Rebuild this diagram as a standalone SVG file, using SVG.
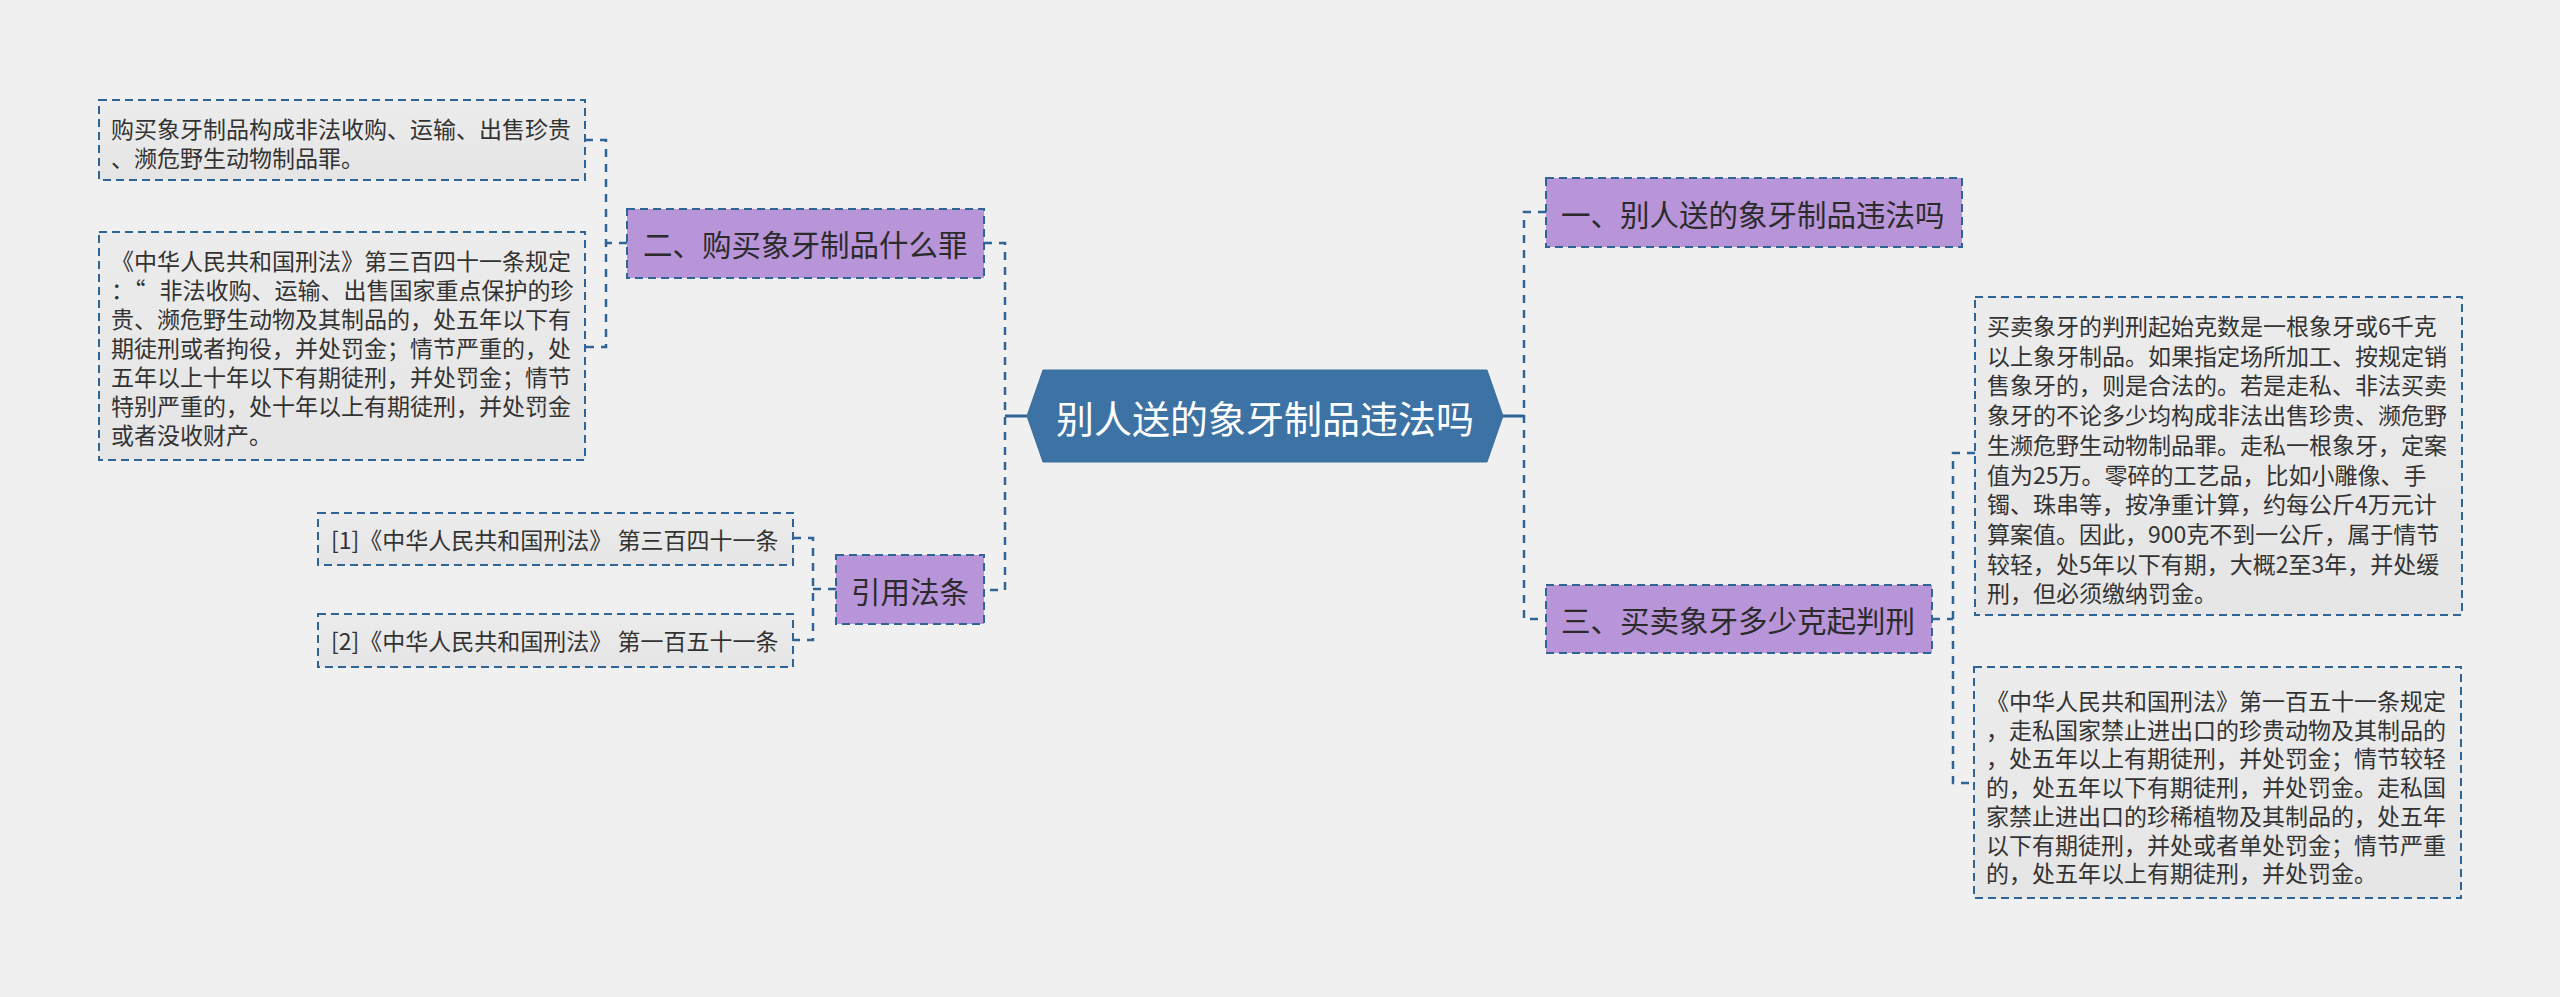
<svg xmlns="http://www.w3.org/2000/svg" width="2560" height="997" viewBox="0 0 2560 997">
<defs>
<linearGradient id="leafg" x1="0" y1="0" x2="0" y2="1">
<stop offset="0" stop-color="#ececec"/>
<stop offset="1" stop-color="#e5e5e5"/>
</linearGradient>
<style>
.leaf{fill:url(#leafg);stroke:#2f6596;stroke-width:2;stroke-dasharray:8 5}
.topic{fill:#b894d8;stroke:#2f6596;stroke-width:2;stroke-dasharray:8 5}
.lt{font-family:"Noto Sans CJK SC","Noto Sans",sans-serif;font-size:23px;fill:#333333;dominant-baseline:central}
.tt{font-family:"Noto Sans CJK SC","Noto Sans",sans-serif;font-size:29.5px;fill:#2b2b2b;dominant-baseline:central}
.ct{font-family:"Noto Sans CJK SC","Noto Sans",sans-serif;font-size:38px;fill:#ffffff;dominant-baseline:central;text-anchor:middle}
.con{fill:none;stroke:#2f6596;stroke-width:2.5;stroke-dasharray:8 7}
.solid{fill:none;stroke:#2f6596;stroke-width:3}
</style>
</defs>
<rect x="0" y="0" width="2560" height="997" fill="#f0f0f0"/>

<g id="connectors">
<path class="con" d="M984,243 H1005 V590 H984"/>
<path class="solid" d="M1005,416 H1027"/>
<path class="con" d="M1546,212 H1524 V619 H1546"/>
<path class="solid" d="M1503,416 H1524"/>
<path class="con" d="M627,243 H606"/>
<path class="con" d="M585,140 H606 V347 H585"/>
<path class="con" d="M836,589 H813"/>
<path class="con" d="M793,538 H813 V640 H793"/>
<path class="con" d="M1932,619 H1953"/>
<path class="con" d="M1975,453 H1953 V783 H1974"/>
</g>

<g id="center">
<polygon points="1027,416 1043,370 1487,370 1503,416 1487,462 1043,462" fill="#3d72a5" stroke="#3a6c9c" stroke-width="1"/>
<text class="ct" x="1265" y="416">别人送的象牙制品违法吗</text>
</g>

<g id="topic-2">
<rect class="topic" x="627" y="209" width="357" height="69"/>
<text class="tt" x="643" y="243">二、购买象牙制品什么罪</text>
</g>

<g id="leaf-2a">
<rect class="leaf" x="99" y="100" width="486" height="80"/>
<text class="lt"><tspan x="111" y="128">购买象牙制品构成非法收购、运输、出售珍贵</tspan><tspan x="111" y="157">、濒危野生动物制品罪。</tspan></text>
</g>

<g id="leaf-2b">
<rect class="leaf" x="99" y="232" width="486" height="228"/>
<text class="lt"><tspan x="111" y="260">《中华人民共和国刑法》第三百四十一条规定</tspan><tspan x="111" y="289">：“</tspan><tspan dx="14">非法收购、运输、出售国家重点保护的珍</tspan><tspan x="111" y="318">贵、濒危野生动物及其制品的，处五年以下有</tspan><tspan x="111" y="347">期徒刑或者拘役，并处罚金；情节严重的，处</tspan><tspan x="111" y="376">五年以上十年以下有期徒刑，并处罚金；情节</tspan><tspan x="111" y="405">特别严重的，处十年以上有期徒刑，并处罚金</tspan><tspan x="111" y="434">或者没收财产。</tspan></text>
</g>

<g id="topic-ref">
<rect class="topic" x="836" y="555" width="148" height="69"/>
<text class="tt" x="910" y="590" text-anchor="middle">引用法条</text>
</g>

<g id="leaf-ref1">
<rect class="leaf" x="318" y="513" width="475" height="52"/>
<text class="lt" x="331" y="539">[1]《中华人民共和国刑法》 第三百四十一条</text>
</g>

<g id="leaf-ref2">
<rect class="leaf" x="318" y="614" width="475" height="53"/>
<text class="lt" x="331" y="640">[2]《中华人民共和国刑法》 第一百五十一条</text>
</g>

<g id="topic-1">
<rect class="topic" x="1546" y="178" width="416" height="69"/>
<text class="tt" x="1561" y="213">一、别人送的象牙制品违法吗</text>
</g>

<g id="topic-3">
<rect class="topic" x="1546" y="585" width="386" height="68"/>
<text class="tt" x="1561" y="619">三、买卖象牙多少克起判刑</text>
</g>

<g id="leaf-3a">
<rect class="leaf" x="1975" y="297" width="487" height="318"/>
<text class="lt"><tspan x="1987" y="325">买卖象牙的判刑起始克数是一根象牙或6千克</tspan><tspan x="1987" y="354.7">以上象牙制品。如果指定场所加工、按规定销</tspan><tspan x="1987" y="384.4">售象牙的，则是合法的。若是走私、非法买卖</tspan><tspan x="1987" y="414.1">象牙的不论多少均构成非法出售珍贵、濒危野</tspan><tspan x="1987" y="443.8">生濒危野生动物制品罪。走私一根象牙，定案</tspan><tspan x="1987" y="473.5">值为25万。零碎的工艺品，比如小雕像、手</tspan><tspan x="1987" y="503.2">镯、珠串等，按净重计算，约每公斤4万元计</tspan><tspan x="1987" y="532.9">算案值。因此，900克不到一公斤，属于情节</tspan><tspan x="1987" y="562.6">较轻，处5年以下有期，大概2至3年，并处缓</tspan><tspan x="1987" y="592.3">刑，但必须缴纳罚金。</tspan></text>
</g>

<g id="leaf-3b">
<rect class="leaf" x="1974" y="667" width="487" height="231"/>
<text class="lt"><tspan x="1986" y="700">《中华人民共和国刑法》第一百五十一条规定</tspan><tspan x="1986" y="728.7">，走私国家禁止进出口的珍贵动物及其制品的</tspan><tspan x="1986" y="757.4">，处五年以上有期徒刑，并处罚金；情节较轻</tspan><tspan x="1986" y="786.1">的，处五年以下有期徒刑，并处罚金。走私国</tspan><tspan x="1986" y="814.8">家禁止进出口的珍稀植物及其制品的，处五年</tspan><tspan x="1986" y="843.5">以下有期徒刑，并处或者单处罚金；情节严重</tspan><tspan x="1986" y="872.2">的，处五年以上有期徒刑，并处罚金。</tspan></text>
</g>
</svg>
